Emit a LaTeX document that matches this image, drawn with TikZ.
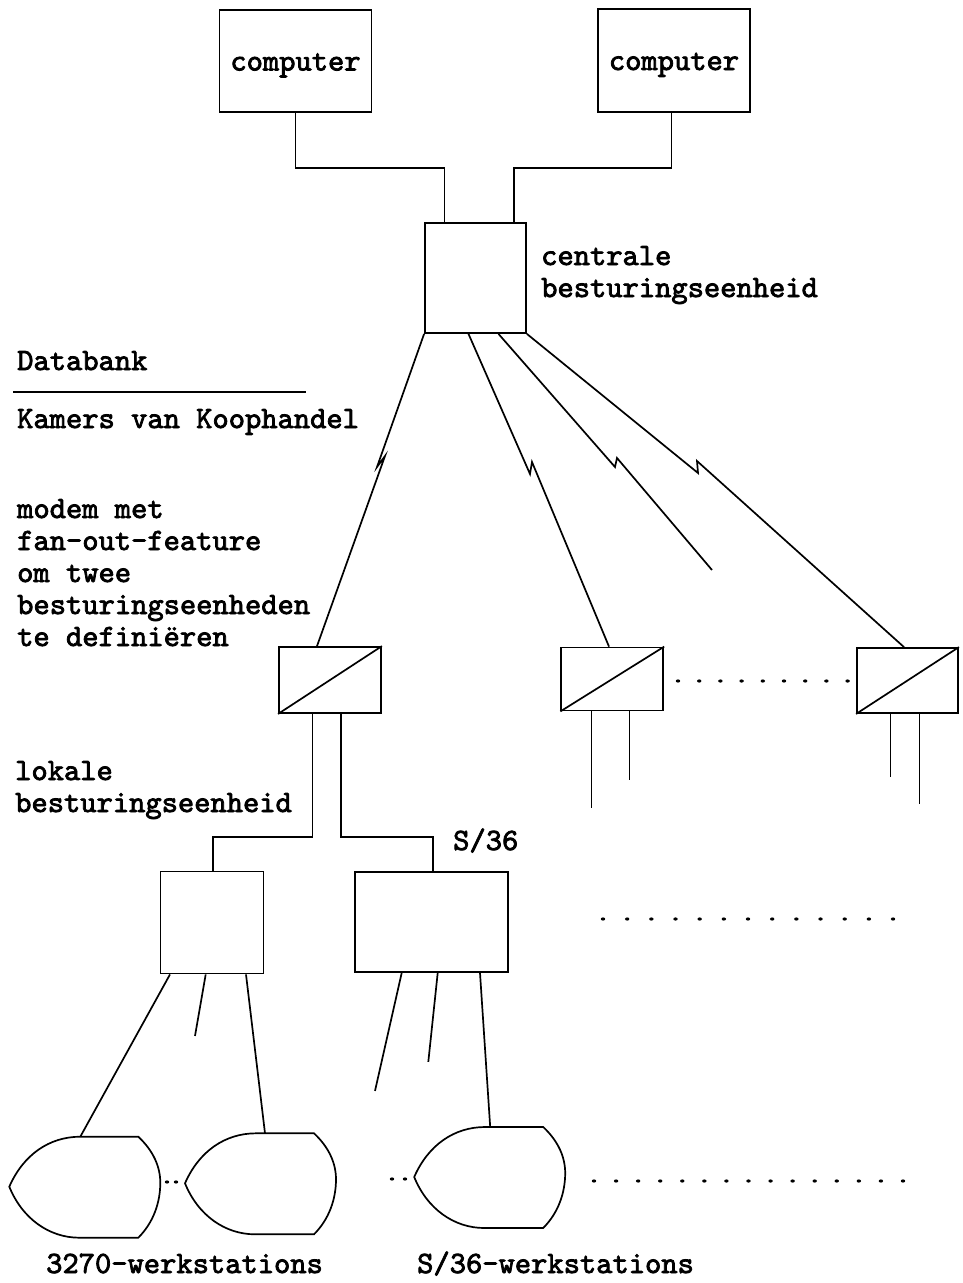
\documentclass[tikz,border=0pt]{standalone}
\usepackage{fontspec}
\newfontfamily\tw{lmmono10-regular.otf}[FakeBold=2.5]
\begin{document}
\begin{tikzpicture}[x=1pt,y=-1pt,
  every node/.style={font=\tw\fontsize{31}{32}\selectfont, inner sep=0pt},
  box/.style={draw, line width=1.8pt},
  wire/.style={line width=1.7pt},
  txt/.style={anchor=base west, align=left},
  ws/.pic={
    \draw[wire] (0,0) .. controls (14,-32) and (40,-50) .. (71,-50) -- (129,-50)
      .. controls (144,-36) and (151,-20) .. (151,-4)
      .. controls (151,16) and (144,36) .. (129,51) -- (70,51)
      .. controls (40,51) and (13,32) .. (0,0) -- cycle;
    \coordinate (-top) at (71,-50);
  }]
\useasboundingbox (0,0) rectangle (962,1283);
\fill[white] (0,0) rectangle (962,1283);

% host computers and the central control unit
\node[box, minimum width=152, minimum height=102, text height=22pt, text depth=3pt] (c1) at (295.5,61) {computer};
\node[box, minimum width=152, minimum height=103, text height=22pt, text depth=3pt] (c2) at (674,60.5) {computer};
\node[box, minimum width=101, minimum height=110] (cu) at (475.5,278) {};
% (a multi-line node sits on the baseline of its last line)
\node[txt] (cul) at (541,297) {centrale\\besturingseenheid};
\draw[wire] (c1.south) -- ++(0,55) -| ([xshift=-31]cu.north);
\draw[wire] ([xshift=-2.5]c2.south) -- ++(0,55) -| ([xshift=38.5]cu.north);

% left-hand notes
\node[txt] (db) at (17,370) {Databank};
\coordinate (ruleL) at (13,392);
\coordinate (ruleR) at (306,392);
\draw[line width=1.5pt] (ruleL) -- (ruleR);
\node[txt] (kvk) at (17,428) {Kamers van Koophandel};
\node[txt] (mnote) at (17,646) {modem met\\fan-out-feature\\om twee\\besturingseenheden\\te definiëren};
\node[txt] (lnote) at (15,812) {lokale\\besturingseenheid};

% modems
\node[box, minimum width=102, minimum height=66] (m1) at (330,680) {};
\node[box, minimum width=102, minimum height=63] (m2) at (612.3,679) {};
\node[box, minimum width=101, minimum height=65] (m3) at (907.5,680.5) {};
\foreach \m in {m1,m2,m3} \draw[wire] (\m.south west) -- (\m.north east);

% remote lines with the lightning mark
\coordinate (a1) at (377,467); \coordinate (a2) at (385,456);
\coordinate (b1) at (530,474); \coordinate (b2) at (532,462);
\coordinate (k1) at (615,467); \coordinate (k2) at (617,458);
\coordinate (d1) at (698,473); \coordinate (d2) at (697,461);
\coordinate (kend) at (712,570);
\draw[wire] (cu.south west) -- (a1) -- (a2) -- ([xshift=-13]m1.north);
\draw[wire] ([xshift=-7]cu.south) -- (b1) -- (b2) -- ([xshift=-3.3]m2.north);
\draw[wire] ([xshift=23]cu.south) -- (k1) -- (k2) -- (kend);
\draw[wire] (cu.south east) -- (d1) -- (d2) -- ([xshift=-3.5]m3.north);

% dotted continuation between modems
\foreach \i in {0,...,8} \fill ({678+\i*21.2},681) ellipse (2.2 and 1.6);

% modem outputs
\draw[wire] ([xshift=-20.8]m2.south) -- ++(0,97);
\draw[wire] ([xshift=17.2]m2.south) -- ++(0,69);
\draw[wire] ([xshift=-17]m3.south) -- ++(0,63);
\draw[wire] ([xshift=12]m3.south) -- ++(0,90);

% local control units
\node[box, minimum width=103, minimum height=102] (lb) at (212,922.5) {};
\node[box, minimum width=153, minimum height=100] (sb) at (431.7,922) {};
\node[txt] (s36) at (453,850) {S/36};
\draw[wire] ([xshift=-17.5]m1.south) -- ++(0,123) -| ([xshift=1.3]lb.north);
\draw[wire] ([xshift=11]m1.south) -- ++(0,123) -| ([xshift=1]sb.north);
\foreach \i in {0,...,12} \fill ({603+\i*24.17},919) ellipse (2.2 and 1.6);

% workstations
\pic (w1) at (9.3,1186.7) {ws};
\pic (w2) at (185,1183.3) {ws};
\pic (w3) at (414.2,1177) {ws};
\fill (167,1182) ellipse (2.2 and 1.6);
\fill (176,1182) ellipse (2.2 and 1.6);
\fill (392,1179) ellipse (2.2 and 1.6);
\fill (405,1179) ellipse (2.2 and 1.6);
\foreach \i in {0,...,14} \fill ({594+\i*22.07},1181) ellipse (2.2 and 1.6);

% terminal cables
\draw[wire] ([xshift=-42]lb.south) -- (w1-top);
\draw[wire] ([xshift=-6.3]lb.south) -- ++(-10.7,61.5);
\draw[wire] ([xshift=34]lb.south) -- ([xshift=9]w2-top);
\draw[wire] ([xshift=-30]sb.south) -- ++(-26.7,118);
\draw[wire] ([xshift=6]sb.south) -- ++(-9.4,89);
\draw[wire] ([xshift=48.3]sb.south) -- ([xshift=5]w3-top);

\node[txt] (t3270) at (46,1273) {3270-werkstations};
\node[txt] (ts36) at (417,1273) {S/36-werkstations};
\end{tikzpicture}
\end{document}
